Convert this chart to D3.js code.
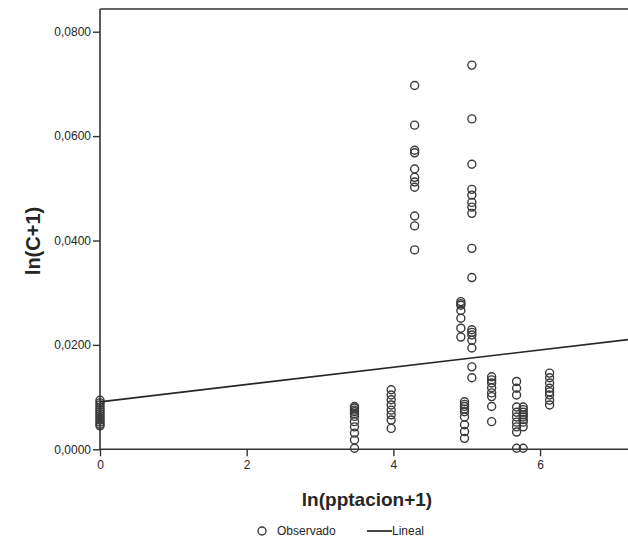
<!DOCTYPE html>
<html>
<head>
<meta charset="utf-8">
<script src="https://cdn.jsdelivr.net/npm/d3@7"></script>
<style>
  body { margin: 0; background: #fff; }
  text { font-family: "Liberation Sans", Arial, sans-serif; fill: #262626; }
</style>
</head>
<body>
<div id="chart"></div>
<script>
var width = 628, height = 543;

// x position of each vertical group of observations, ln(pptacion+1)
var groupX = [0, 3.47, 3.97, 4.29, 4.92, 4.97, 5.07, 5.34, 5.68, 5.77, 6.13];

// observed ln(C+1) values in each group
var groupY = [
  [0.0094, 0.0089, 0.0085, 0.0080, 0.0076, 0.0072, 0.0068, 0.0064, 0.0060, 0.0056, 0.0052, 0.0048, 0.0045],
  [0.0082, 0.0079, 0.0075, 0.0072, 0.0068, 0.0063, 0.0053, 0.0043, 0.0031, 0.0018, 0.0002],
  [0.0114, 0.0104, 0.0095, 0.0085, 0.0075, 0.0066, 0.0056, 0.0040],
  [0.0697, 0.0621, 0.0573, 0.0568, 0.0537, 0.0521, 0.0512, 0.0502, 0.0447, 0.0428, 0.0382],
  [0.0283, 0.0279, 0.0276, 0.0266, 0.0251, 0.0232, 0.0215],
  [0.0091, 0.0086, 0.0082, 0.0077, 0.0072, 0.0062, 0.0047, 0.0034, 0.0021],
  [0.0736, 0.0633, 0.0546, 0.0498, 0.0487, 0.0473, 0.0464, 0.0452, 0.0385, 0.0329, 0.0229, 0.0224, 0.0219, 0.0209, 0.0194, 0.0158, 0.0137],
  [0.0139, 0.0133, 0.0127, 0.0118, 0.0108, 0.0101, 0.0082, 0.0053],
  [0.0130, 0.0117, 0.0104, 0.0081, 0.0071, 0.0062, 0.0052, 0.0043, 0.0033, 0.0002],
  [0.0081, 0.0076, 0.0071, 0.0066, 0.0062, 0.0057, 0.0052, 0.0043, 0.0002],
  [0.0146, 0.0137, 0.0127, 0.0117, 0.0110, 0.0104, 0.0094, 0.0085]
];

// linear fit (Lineal)
var lineX = [0, 7.25];
var lineY = [0.0091, 0.0211];

var xTicks = [0, 2, 4, 6];
var yTicks = [0, 0.02, 0.04, 0.06, 0.08];

var points = [];
groupX.forEach(function(x, i) {
  groupY[i].forEach(function(y) { points.push({x: x, y: y}); });
});

// plot edges (window.top is reserved, hence the names)
var plotLeft = 100, plotTop = 9, plotBottom = 449.3, plotRight = 631;

var xScale = d3.scaleLinear().domain([0, 7.24]).range([plotLeft, plotRight]);
var yScale = d3.scaleLinear().domain([0, 0.08435]).range([plotBottom, plotTop]);

var svg = d3.select("#chart").append("svg")
    .attr("width", width)
    .attr("height", height);

// frame top line
svg.append("line")
    .attr("x1", plotLeft).attr("x2", width)
    .attr("y1", plotTop).attr("y2", plotTop)
    .attr("stroke", "#333").attr("stroke-width", 1.6);

var fmt = function(d) { return d3.format(".4f")(d).replace(".", ","); };

var yAxis = svg.append("g")
    .attr("transform", "translate(" + plotLeft + ",0)")
    .call(d3.axisLeft(yScale).tickValues(yTicks).tickFormat(fmt).tickSize(7).tickPadding(2));

var xAxis = svg.append("g")
    .attr("transform", "translate(0," + plotBottom + ")")
    .call(d3.axisBottom(xScale).tickValues(xTicks).tickFormat(d3.format("d")).tickSize(7).tickPadding(4));

[yAxis, xAxis].forEach(function(g) {
  g.select(".domain").attr("stroke", "#333").attr("stroke-width", 1.6);
  g.selectAll(".tick line").attr("stroke", "#333").attr("stroke-width", 1.4);
  g.selectAll(".tick text").attr("font-size", 12).attr("fill", "#2a2a2a")
    .style("font-family", "Liberation Sans, Arial, sans-serif");
});
xAxis.select(".domain").attr("d", "M" + plotLeft + ",0H" + width);
yAxis.select(".domain").attr("d", "M0," + plotTop + "V" + plotBottom);

// observed points
svg.append("g").selectAll("circle")
    .data(points)
    .enter().append("circle")
    .attr("cx", function(d) { return xScale(d.x); })
    .attr("cy", function(d) { return yScale(d.y); })
    .attr("r", 4)
    .attr("fill", "none")
    .attr("stroke", "#3a3a3a")
    .attr("stroke-width", 1.4);

// fit line
var fit = d3.line()
    .x(function(d) { return xScale(d[0]); })
    .y(function(d) { return yScale(d[1]); });

svg.append("path")
    .datum(d3.zip(lineX, lineY))
    .attr("d", fit)
    .attr("fill", "none")
    .attr("stroke", "#262626")
    .attr("stroke-width", 1.7);

// axis titles
svg.append("text")
    .attr("transform", "translate(40,241) rotate(-90)")
    .attr("text-anchor", "middle")
    .attr("font-size", 20)
    .attr("font-weight", "bold")
    .text("ln(C+1)");

svg.append("text")
    .attr("x", 367)
    .attr("y", 506)
    .attr("text-anchor", "middle")
    .attr("font-size", 19)
    .attr("font-weight", "bold")
    .text("ln(pptacion+1)");

// legend
var legend = svg.append("g");
legend.append("circle")
    .attr("cx", 262).attr("cy", 531).attr("r", 4)
    .attr("fill", "none").attr("stroke", "#3a3a3a").attr("stroke-width", 1.4);
legend.append("text")
    .attr("x", 277).attr("y", 535)
    .attr("font-size", 12)
    .text("Observado");
legend.append("line")
    .attr("x1", 367).attr("x2", 392)
    .attr("y1", 531).attr("y2", 531)
    .attr("stroke", "#262626").attr("stroke-width", 1.7);
legend.append("text")
    .attr("x", 392).attr("y", 535)
    .attr("font-size", 12)
    .text("Lineal");
</script>
</body>
</html>
